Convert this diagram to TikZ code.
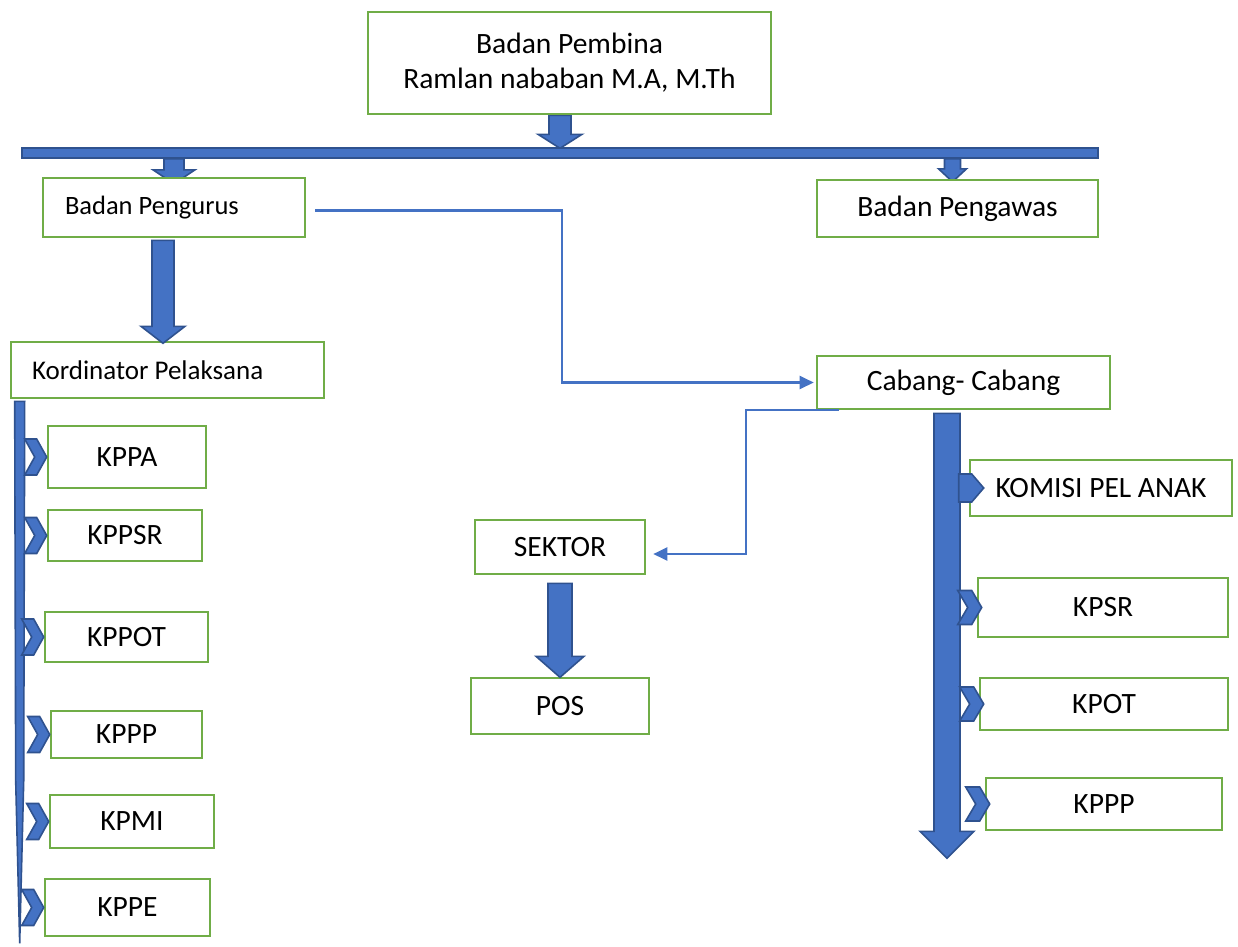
\documentclass[tikz,border=0pt]{standalone}
\usepackage{fontspec}
\setmainfont{Carlito}
\usetikzlibrary{arrows.meta,backgrounds}
\definecolor{biru}{HTML}{4472C4}
\definecolor{birutua}{HTML}{2F528F}
\definecolor{hijau}{HTML}{70AD47}
\begin{document}
\begin{tikzpicture}[x=1pt,y=-1pt,
    kotak/.style={draw=hijau, line width=2.6pt, fill=white, inner sep=0pt, font=\fontsize{29.5}{35}\selectfont},
    blok/.style={fill=biru, draw=birutua, line width=1.6pt, line join=miter},
    garis/.style={draw=biru, line width=2.2pt, -{Triangle[length=14pt,width=13pt]}}]
    \useasboundingbox (0,0) rectangle (1238,946);
    % Pimpinan
    \node[kotak, minimum width=403pt, minimum height=102pt, align=center] (pembina) at (569.5,63) {Badan Pembina\\Ramlan nababan M.A, M.Th};
    \node[blok, minimum width=1076pt, minimum height=10pt, inner sep=0pt] (palang) at (560,153) {};
    \node[kotak, minimum width=262pt, minimum height=59pt, text width=218pt, inner xsep=22pt, align=flush left, font=\fontsize{26.5}{31}\selectfont] (pengurus) at (174,207.5) {Badan Pengurus};
    \node[kotak, minimum width=281pt, minimum height=57pt] (pengawas) at (957.5,208.5) {Badan Pengawas};
    \node[kotak, minimum width=313pt, minimum height=56pt, text width=271pt, inner xsep=21pt, align=flush left, font=\fontsize{27}{32}\selectfont] (kordinator) at (167.5,370) {Kordinator Pelaksana};
    % Komisi pusat
    \node[kotak, minimum width=158pt, minimum height=62pt] (kppa) at (127,457) {KPPA};
    \node[kotak, minimum width=154pt, minimum height=51pt] (kppsr) at (125,535.5) {KPPSR};
    \node[kotak, minimum width=163pt, minimum height=50pt] (kppot) at (126.5,637) {KPPOT};
    \node[kotak, minimum width=151pt, minimum height=47pt] (kpppk) at (126.5,734.5) {KPPP};
    \node[kotak, minimum width=164pt, minimum height=53pt] (kpmi) at (132,821.5) {KPMI};
    \node[kotak, minimum width=165pt, minimum height=57pt] (kppe) at (127.5,907.5) {KPPE};
    % Cabang dan sektor
    \node[kotak, minimum width=293pt, minimum height=53pt] (cabang) at (963.5,382.5) {Cabang- Cabang};
    \node[kotak, minimum width=170pt, minimum height=54pt] (sektor) at (560,547) {SEKTOR};
    \node[kotak, minimum width=178pt, minimum height=56pt] (pos) at (560,706) {POS};
    \node[kotak, minimum width=262pt, minimum height=56pt] (komisi) at (1101,488) {KOMISI PEL ANAK};
    \node[kotak, minimum width=250pt, minimum height=59pt] (kpsr) at (1103,607.5) {KPSR};
    \node[kotak, minimum width=248pt, minimum height=52pt] (kpot) at (1104,704) {KPOT};
    \node[kotak, minimum width=236pt, minimum height=52pt] (kpppr) at (1104,804) {KPPP};
    % Panah blok
    \begin{pgfonlayer}{background}
    \draw[blok] ([xshift=-9.5pt]pembina.south) ++(-11,0) -- ++(0,19) -- ++(-11,0) -- ++(22,14) -- ++(22,-14) -- ++(-11,0) -- ++(0,-19) -- cycle;
    \draw[blok] (palang.south -| pengurus.north) ++(-10,0) -- ++(0,11) -- ++(-11,0) -- ++(21,14) -- ++(21,-14) -- ++(-11,0) -- ++(0,-11) -- cycle;
    \draw[blok] ([xshift=-5pt]palang.south -| pengawas.north) ++(-8,0) -- ++(0,10) -- ++(-6,0) -- ++(14,13) -- ++(14,-13) -- ++(-6,0) -- ++(0,-10) -- cycle;
    \end{pgfonlayer}
    \draw[blok] ([xshift=-11pt]pengurus.south) ++(-11,2) -- ++(0,86) -- ++(-11,0) -- ++(22,17) -- ++(22,-17) -- ++(-11,0) -- ++(0,-86) -- cycle;
    \draw[blok] ([yshift=-8pt]sektor.south) ++(-12,0) -- ++(0,73) -- ++(-12,0) -- ++(24,21) -- ++(24,-21) -- ++(-12,0) -- ++(0,-73) -- cycle;
    \draw[blok] ([xshift=-16.5pt]cabang.south) ++(-13,3) -- ++(0,418) -- ++(-14,0) -- ++(27,27) -- ++(27,-27) -- ++(-14,0) -- ++(0,-418) -- cycle;
    \draw[blok] (kordinator.south west) ++(5,2) -- ++(10,0) -- ++(-1,380) -- ++(-4,162) -- ++(-4,-162) -- cycle;
    % Penanda komisi
    \foreach \k in {kppa,kppsr,kppot,kpppk,kpmi,kppe}
        \draw[blok] ([xshift=-22pt]\k.west) ++(0,-18) -- ++(12,0) -- ++(10,18) -- ++(-10,18) -- ++(-12,0) -- ++(10,-18) -- cycle;
    \foreach \k in {kpsr,kpot,kpppr}
        \draw[blok] ([xshift=-19pt]\k.west) ++(0,-17) -- ++(14,0) -- ++(10,17) -- ++(-10,17) -- ++(-14,0) -- ++(10,-17) -- cycle;
    \draw[blok] ([xshift=-10pt]komisi.west) ++(0,-14) -- ++(13,0) -- ++(12,14) -- ++(-12,14) -- ++(-13,0) -- cycle;
    % Garis penghubung
    \draw[garis] ([xshift=9pt,yshift=-3pt]pengurus.east) -| ([xshift=-254pt]cabang.west) -- ([xshift=-2pt]cabang.west);
    \draw[garis] ([xshift=23pt]cabang.south west) -| ([xshift=100pt,yshift=-7pt]sektor.east) -- ([xshift=7pt,yshift=-7pt]sektor.east);
\end{tikzpicture}
\end{document}
